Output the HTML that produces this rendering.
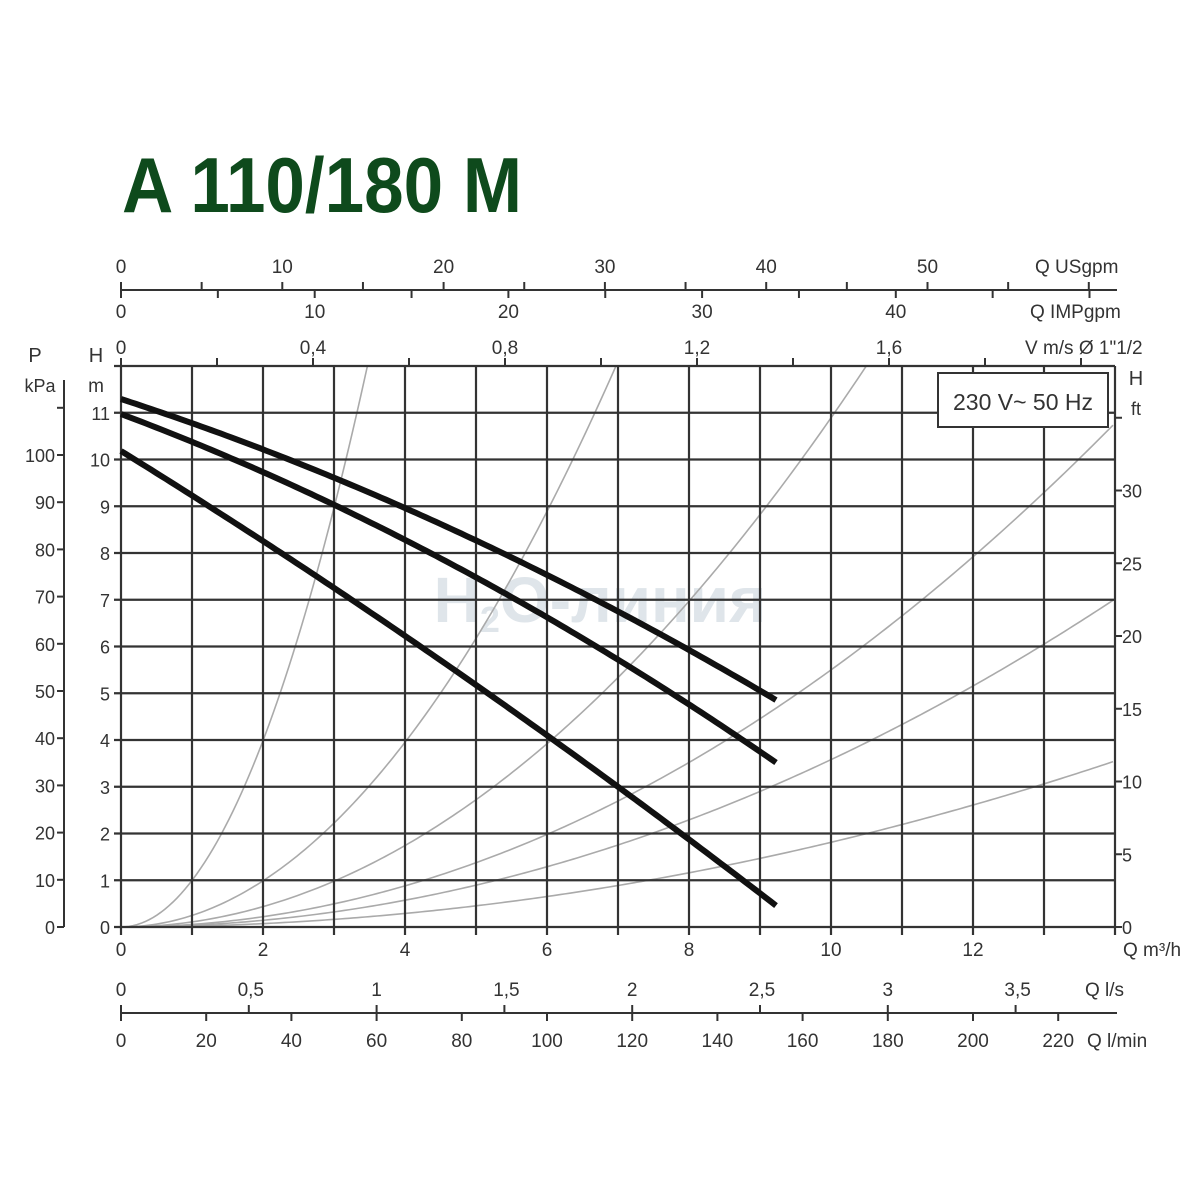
<!DOCTYPE html>
<html><head><meta charset="utf-8"><style>
html,body{margin:0;padding:0;background:#fff;}
svg{display:block;font-family:"Liberation Sans",sans-serif;}
</style></head><body>
<svg id="s" width="1200" height="1200" viewBox="0 0 1200 1200" xmlns="http://www.w3.org/2000/svg">
<rect width="1200" height="1200" fill="#fff"/>
<text x="122" y="212" font-size="78" font-weight="bold" fill="#0e4a1c" textLength="400" lengthAdjust="spacingAndGlyphs">A 110/180 M</text>
<text x="600" y="622" font-size="64" font-weight="bold" fill="#dfe5ea" text-anchor="middle">H<tspan font-size="36" dy="10">2</tspan><tspan dy="-10">O-линия</tspan></text>
<g id="g"></g>
</svg>
<script>
const g=document.getElementById('g');let h='';
const X=q=>121+71*q, Y=m=>927-46.75*m;
const L=(x1,y1,x2,y2,c,w)=>h+=`<line x1="${x1}" y1="${y1}" x2="${x2}" y2="${y2}" stroke="${c||'#333'}" stroke-width="${w||2}"/>`;
const T=(x,y,t,a,s)=>h+=`<text x="${x}" y="${y}" font-size="${s||19}" fill="#333" text-anchor="${a||'middle'}">${t}</text>`;
[0.00924,0.00229,0.00101,0.00051,0.000332,0.000168].forEach(a=>{let p='';for(let dx=0;dx<=994;dx+=4){let y=927-a*dx*dx;if(y<366){p+=` L${121+Math.sqrt(561/a)} 366`;break;}p+=(p?' L':'M')+(121+dx)+' '+y;}h+=`<path d="${p}" fill="none" stroke="#aaa" stroke-width="1.6"/>`;});
for(let i=0;i<=14;i++)L(X(i),366,X(i),935,'#333',2.2);
for(let j=0;j<=12;j++)L(114,Y(j),1115,Y(j),'#333',2.2);
h+=`<rect x="938" y="373" width="170" height="54" fill="#fff" stroke="#333" stroke-width="2"/>`;
T(1023,410,'230 V~ 50 Hz','middle',23);
[[399,0.326,0.000204],[414,0.375,0.00024],[451,0.618,0.000116]].forEach(([y0,b,c])=>{let d='';for(let dx=0;dx<=655;dx+=5){d+=(d?' L':'M')+(121+dx)+' '+(y0+b*dx+c*dx*dx).toFixed(1);}h+=`<path d="${d}" fill="none" stroke="#111" stroke-width="6"/>`;});
for(let j=0;j<=11;j++)T(110,Y(j)+7,j,'end',18);
T(96,362,'H','middle',20);T(96,392,'m','middle',19);
T(35,362,'P','middle',20);T(40,392,'kPa','middle',18);
L(64,380,64,927);
for(let k=0;k<=11;k++){const y=927-4.72*k*10;L(57,y,64,y);if(k<=10)T(55,y+7,k*10,'end',18);}
T(1136,385,'H','middle',20);T(1136,415,'ft','middle',18);
for(let f=0;f<=35;f+=5){const y=927-14.55*f;L(1115,y,1122,y);if(f<35)T(1122,y+7,f,'start',18);}
for(let q=0;q<=12;q+=2)T(X(q),956,q,'middle',19);
T(1123,956,'Q m³/h','start',19);
L(121,1013,1117,1013);
for(let v=0;v<=3.5;v+=0.5){const x=121+255.6*v;L(x,1005,x,1013);T(x+(v%1?2:0),996,String(v).replace('.',','),'middle',19);}
T(1085,996,'Q l/s','start',19);
for(let v=0;v<=220;v+=20){const x=121+4.26*v;L(x,1013,x,1021);T(x,1047,v,'middle',19);}
T(1087,1047,'Q l/min','start',19);
L(121,290,1117,290);
for(let v=0;v<=60;v+=5){const x=121+16.13*v;if(x>1117)break;L(x,282,x,290);if(v%10==0&&v<=50)T(x,273,v,'middle',19);}
T(1035,273,'Q USgpm','start',19);
for(let v=0;v<=50;v+=5){const x=121+19.37*v;if(x>1117)break;L(x,290,x,298);if(v%10==0&&v<=40)T(x,318,v,'middle',19);}
T(1030,318,'Q IMPgpm','start',19);
L(121,366,1115,366);
for(let v=0;v<=2.0;v+=0.2){const x=121+480*v;if(x>1117)break;L(x,358,x,366);}
[[0,'0'],[0.4,'0,4'],[0.8,'0,8'],[1.2,'1,2'],[1.6,'1,6']].forEach(([v,t])=>T(121+480*v,354,t,'middle',19));
T(1025,354,'V m/s Ø 1"1/2','start',19);
g.innerHTML=h;
</script>
</body></html>
